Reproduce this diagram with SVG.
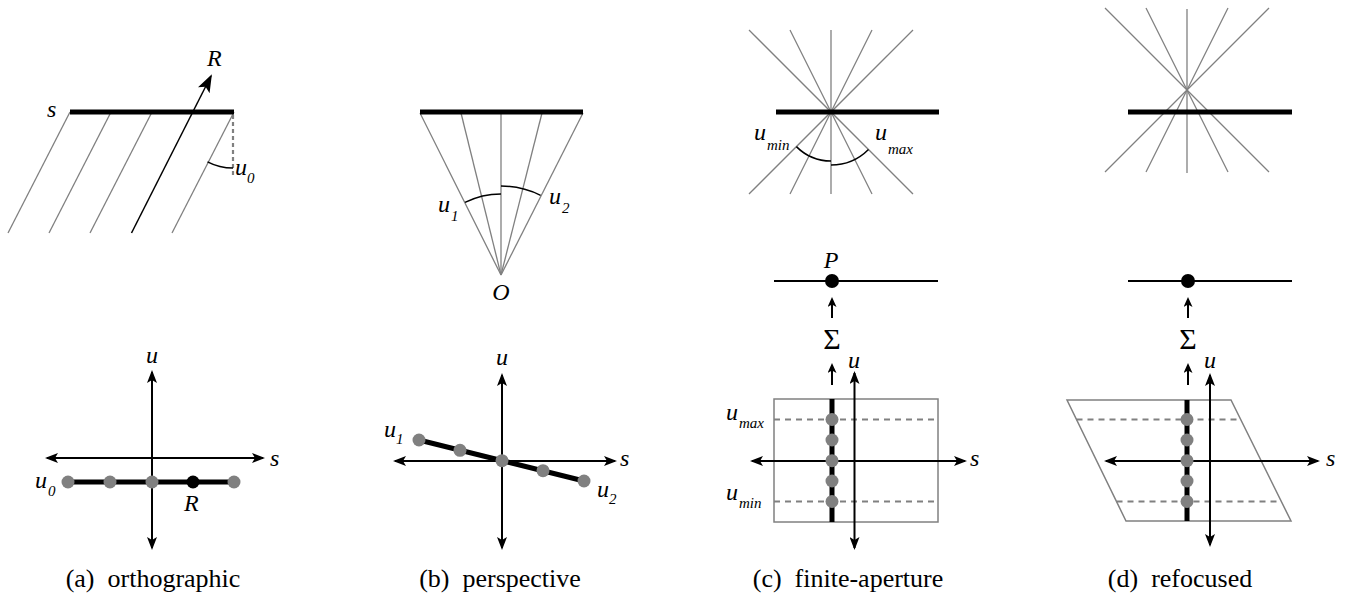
<svg xmlns="http://www.w3.org/2000/svg" width="1347" height="594" viewBox="0 0 1347 594">
<style>
.ray{stroke:#808080;stroke-width:1.3;fill:none}
.bar{stroke:#000;stroke-width:5}
.ax{stroke:#000;stroke-width:2;fill:none;marker-start:url(#ah);marker-end:url(#ah)}
.up{stroke:#000;stroke-width:2;marker-end:url(#sm)}
.arc{stroke:#000;stroke-width:1.5;fill:none}
.dash{stroke:#808080;stroke-width:2;stroke-dasharray:6 5}
.dashv{stroke:#808080;stroke-width:2.2;stroke-dasharray:4 3}
.box{stroke:#808080;stroke-width:1.5;fill:none}
.g{fill:#808080}
.k{fill:#000}
.thin{stroke:#000;stroke-width:2}
.l{font-family:'Liberation Serif',serif;font-style:italic;font-size:24px;fill:#000}
.sb{font-family:'Liberation Serif',serif;font-style:italic;font-size:15px;fill:#000}
.sig{font-family:'Liberation Serif',serif;font-size:30px;fill:#000;text-anchor:middle}
.cap{font-family:'Liberation Serif',serif;font-size:26px;fill:#000;text-anchor:middle}
</style>
<defs>
<marker id="ah" viewBox="0 0 13 10" refX="11" refY="5" markerWidth="13" markerHeight="10" markerUnits="userSpaceOnUse" orient="auto-start-reverse"><path d="M0,0 L13,5 L0,10 L3,5 z" fill="#000"/></marker>
<marker id="sm" viewBox="0 0 10 9" refX="8" refY="4.5" markerWidth="10" markerHeight="9" markerUnits="userSpaceOnUse" orient="auto"><path d="M0,0 L10,4.5 L0,9 L2.5,4.5 z" fill="#000"/></marker>
<marker id="big" viewBox="0 0 18 13" refX="16" refY="6.5" markerWidth="18" markerHeight="13" markerUnits="userSpaceOnUse" orient="auto"><path d="M0,0 L18,6.5 L0,13 L4,6.5 z" fill="#000"/></marker>
</defs>

<g id="panel-a-top">
<line class="ray" x1="70" y1="112" x2="8" y2="233"/>
<line class="ray" x1="111" y1="112" x2="49" y2="233"/>
<line class="ray" x1="152" y1="112" x2="90" y2="233"/>
<line class="ray" x1="234" y1="112" x2="172" y2="233"/>
<line x1="70" y1="112" x2="234" y2="112" class="bar"/>
<line class="dashv" x1="233" y1="115" x2="233" y2="178"/>
<path class="arc" d="M207.5,161.8 A56,56 0 0 0 233,168"/>
<line x1="131.5" y1="233" x2="211" y2="76" stroke="#000" stroke-width="1.5" marker-end="url(#big)"/>
<text class="l" font-family="Liberation Serif" x="47" y="117">s</text>
<text class="l" font-family="Liberation Serif" x="207" y="66">R</text>
<text class="l" font-family="Liberation Serif" x="235" y="175">u</text>
<text class="sb" font-family="Liberation Serif" x="247" y="183">0</text>
</g>

<g id="panel-a-bottom">
<line class="ax" x1="47" y1="458" x2="263" y2="458"/>
<line class="ax" x1="152" y1="372" x2="152" y2="548"/>
<line x1="68" y1="482" x2="234" y2="482" class="bar"/>
<circle class="g" cx="68" cy="482" r="6.5"/>
<circle class="g" cx="110" cy="482" r="6.5"/>
<circle class="g" cx="152" cy="482" r="6.5"/>
<circle class="k" cx="193" cy="482" r="6.5"/>
<circle class="g" cx="234" cy="482" r="6.5"/>
<text class="l" font-family="Liberation Serif" x="146" y="363">u</text>
<text class="l" font-family="Liberation Serif" x="270" y="466">s</text>
<text class="l" font-family="Liberation Serif" x="35" y="488">u</text>
<text class="sb" font-family="Liberation Serif" x="48" y="496">0</text>
<text class="l" font-family="Liberation Serif" x="184" y="511">R</text>
</g>

<g id="panel-b-top">
<line class="ray" x1="501" y1="275" x2="420" y2="113"/>
<line class="ray" x1="501" y1="275" x2="461" y2="113"/>
<line class="ray" x1="501" y1="275" x2="501" y2="113"/>
<line class="ray" x1="501" y1="275" x2="542" y2="113"/>
<line class="ray" x1="501" y1="275" x2="583" y2="113"/>
<line x1="420" y1="112" x2="583" y2="112" class="bar"/>
<path class="arc" d="M465,202.4 A81,81 0 0 1 501,194"/>
<path class="arc" d="M501,186 A89,89 0 0 1 540.6,195.3"/>
<text class="l" font-family="Liberation Serif" x="501" y="300" text-anchor="middle">O</text>
<text class="l" font-family="Liberation Serif" x="438" y="212">u</text>
<text class="sb" font-family="Liberation Serif" x="451" y="221">1</text>
<text class="l" font-family="Liberation Serif" x="549" y="204">u</text>
<text class="sb" font-family="Liberation Serif" x="562" y="213">2</text>
</g>

<g id="panel-b-bottom">
<line class="ax" x1="395" y1="461" x2="615" y2="461"/>
<line class="ax" x1="502" y1="375" x2="502" y2="548"/>
<line x1="419" y1="440" x2="584" y2="481" class="bar"/>
<circle class="g" cx="419" cy="440" r="6.5"/>
<circle class="g" cx="460" cy="450.3" r="6.5"/>
<circle class="g" cx="502" cy="460.7" r="6.5"/>
<circle class="g" cx="543" cy="470.7" r="6.5"/>
<circle class="g" cx="584" cy="481" r="6.5"/>
<text class="l" font-family="Liberation Serif" x="496" y="365">u</text>
<text class="l" font-family="Liberation Serif" x="620" y="466">s</text>
<text class="l" font-family="Liberation Serif" x="384" y="437">u</text>
<text class="sb" font-family="Liberation Serif" x="396" y="444">1</text>
<text class="l" font-family="Liberation Serif" x="597" y="497">u</text>
<text class="sb" font-family="Liberation Serif" x="609" y="504">2</text>
</g>

<g id="panel-c-top">
<line class="ray" x1="749" y1="30" x2="913" y2="194"/>
<line class="ray" x1="790" y1="30" x2="872" y2="194"/>
<line class="ray" x1="831" y1="30" x2="831" y2="194"/>
<line class="ray" x1="872" y1="30" x2="790" y2="194"/>
<line class="ray" x1="913" y1="30" x2="749" y2="194"/>
<line x1="776" y1="112" x2="939" y2="112" class="bar"/>
<path class="arc" d="M796.4,146.6 A49,49 0 0 0 831,161"/>
<path class="arc" d="M831,165 A53,53 0 0 0 868.5,149.5"/>
<text class="l" font-family="Liberation Serif" x="754" y="140">u</text>
<text class="sb" font-family="Liberation Serif" x="767" y="150">min</text>
<text class="l" font-family="Liberation Serif" x="875" y="140">u</text>
<text class="sb" font-family="Liberation Serif" x="888" y="154">max</text>
</g>

<g id="panel-c-bottom">
<line class="thin" x1="774" y1="281" x2="938" y2="281"/>
<circle class="k" cx="832" cy="281" r="7"/>
<text class="l" font-family="Liberation Serif" x="831" y="268" text-anchor="middle">P</text>
<line class="up" x1="832" y1="318" x2="832" y2="299"/>
<text class="sig" font-family="Liberation Serif" x="832" y="349">&#931;</text>
<line class="up" x1="832" y1="385" x2="832" y2="365"/>
<rect class="box" x="774" y="399" width="164" height="123"/>
<line class="dash" x1="774" y1="419.5" x2="938" y2="419.5"/>
<line class="dash" x1="774" y1="501.5" x2="938" y2="501.5"/>
<line class="ax" x1="752" y1="461" x2="965" y2="461"/>
<line class="ax" x1="854.5" y1="373" x2="854.5" y2="548"/>
<line x1="832" y1="399" x2="832" y2="522" class="bar"/>
<circle class="g" cx="832" cy="419.5" r="6.5"/>
<circle class="g" cx="832" cy="440" r="6.5"/>
<circle class="g" cx="832" cy="460.7" r="6.5"/>
<circle class="g" cx="832" cy="481" r="6.5"/>
<circle class="g" cx="832" cy="501.5" r="6.5"/>
<text class="l" font-family="Liberation Serif" x="848" y="368">u</text>
<text class="l" font-family="Liberation Serif" x="970" y="466">s</text>
<text class="l" font-family="Liberation Serif" x="726" y="420">u</text>
<text class="sb" font-family="Liberation Serif" x="739" y="428">max</text>
<text class="l" font-family="Liberation Serif" x="726" y="500">u</text>
<text class="sb" font-family="Liberation Serif" x="739" y="508">min</text>
</g>

<g id="panel-d-top">
<line class="ray" x1="1105" y1="8" x2="1269" y2="172"/>
<line class="ray" x1="1146" y1="8" x2="1228" y2="172"/>
<line class="ray" x1="1187" y1="9" x2="1187" y2="173"/>
<line class="ray" x1="1228" y1="8" x2="1146" y2="172"/>
<line class="ray" x1="1269" y1="8" x2="1105" y2="172"/>
<line x1="1128" y1="112" x2="1292" y2="112" class="bar"/>
</g>

<g id="panel-d-bottom">
<line class="thin" x1="1128" y1="281" x2="1292" y2="281"/>
<circle class="k" cx="1188" cy="281" r="7"/>
<line class="up" x1="1188" y1="318" x2="1188" y2="299"/>
<text class="sig" font-family="Liberation Serif" x="1188" y="349">&#931;</text>
<line class="up" x1="1188" y1="385" x2="1188" y2="365"/>
<polygon class="box" points="1067,400 1231,400 1291,521 1126,521"/>
<line class="dash" x1="1076.5" y1="419.5" x2="1240.5" y2="419.5"/>
<line class="dash" x1="1116.5" y1="501.5" x2="1281.3" y2="501.5"/>
<line class="ax" x1="1106" y1="461" x2="1318" y2="461"/>
<line class="ax" x1="1210" y1="375" x2="1210" y2="545"/>
<line x1="1187" y1="400" x2="1187" y2="521" class="bar"/>
<circle class="g" cx="1187" cy="419.5" r="6.5"/>
<circle class="g" cx="1187" cy="440" r="6.5"/>
<circle class="g" cx="1187" cy="460.7" r="6.5"/>
<circle class="g" cx="1187" cy="481" r="6.5"/>
<circle class="g" cx="1187" cy="501.5" r="6.5"/>
<text class="l" font-family="Liberation Serif" x="1204" y="368">u</text>
<text class="l" font-family="Liberation Serif" x="1326" y="466">s</text>
</g>

<g id="captions">
<text class="cap" font-family="Liberation Serif" x="153" y="587">(a)&#160; orthographic</text>
<text class="cap" font-family="Liberation Serif" x="500" y="587">(b)&#160; perspective</text>
<text class="cap" font-family="Liberation Serif" x="848" y="587">(c)&#160; finite-aperture</text>
<text class="cap" font-family="Liberation Serif" x="1180" y="587">(d)&#160; refocused</text>
</g>
</svg>
